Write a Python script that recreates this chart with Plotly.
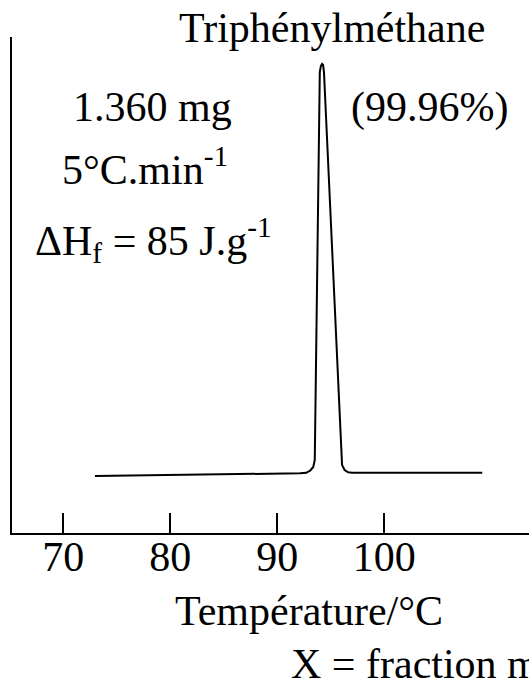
import plotly.graph_objects as go

# DSC melting endotherm of triphenylmethane (heat flow in arbitrary units)
temperature = [72.96, 82.78, 92.13, 92.71, 93.08, 93.36, 93.50, 93.97, 94.07,
               94.18, 94.28, 94.36, 95.98, 96.05, 96.29, 96.62, 97.00, 109.15]
heat_flow = [11.49, 11.73, 12.04, 12.14, 12.60, 13.31, 14.72, 92.94, 94.15,
             94.56, 94.35, 92.94, 14.72, 13.71, 12.70, 12.24, 12.16, 12.16]

tick_values = [70, 80, 90, 100]
tick_labels = ["70", "80", "90", "100"]

FONT = "Liberation Serif, Times New Roman, serif"
FS = 42
W, H = 529, 683
L, R, T, B = 12, 0, 37, 150
PW, PH = W - L - R, H - T - B


def px(x):
    return (x - L) / PW


def py(y):
    return (H - B - y) / PH


fig = go.Figure()
fig.add_trace(go.Scatter(
    x=temperature, y=heat_flow, mode="lines",
    line=dict(color="black", width=2), hoverinfo="skip", showlegend=False,
))

notes = [
    ("Triphénylméthane", 331.5, 28, "center"),
    ("1.360 mg", 152.5, 107, "center"),
    ("(99.96%)", 429, 107, "center"),
    ("5°C.min<sup>-1</sup>", 145, 166, "center"),
    ("ΔH<sub>f</sub> = 85 J.g<sup>-1</sup>", 153.5, 240, "center"),
    ("Température/°C", 308.5, 611, "center"),
    ("X = fraction molaire", 289, 664, "left"),
]
for text, x, y, anchor in notes:
    fig.add_annotation(
        text=text, x=px(x), y=py(y), xref="paper", yref="paper",
        xanchor=anchor, yanchor="middle", showarrow=False,
        font=dict(family=FONT, size=FS, color="black"),
    )

fig.update_xaxes(
    range=[65.206, 113.52], showline=True, linecolor="black", linewidth=2,
    ticks="inside", ticklen=20, tickwidth=2, tickcolor="black",
    tickvals=tick_values, ticktext=tick_labels, ticklabelstandoff=-14,
    tickfont=dict(family=FONT, size=FS, color="black"),
    showgrid=False, zeroline=False, fixedrange=True,
)
fig.update_yaxes(
    range=[0, 100], showline=True, linecolor="black", linewidth=2,
    showticklabels=False, ticks="", showgrid=False, zeroline=False,
    fixedrange=True,
)
fig.update_layout(
    width=W, height=H, margin=dict(l=L, r=R, t=T, b=B, pad=0),
    paper_bgcolor="white", plot_bgcolor="white",
)

fig.write_html("out.html")
